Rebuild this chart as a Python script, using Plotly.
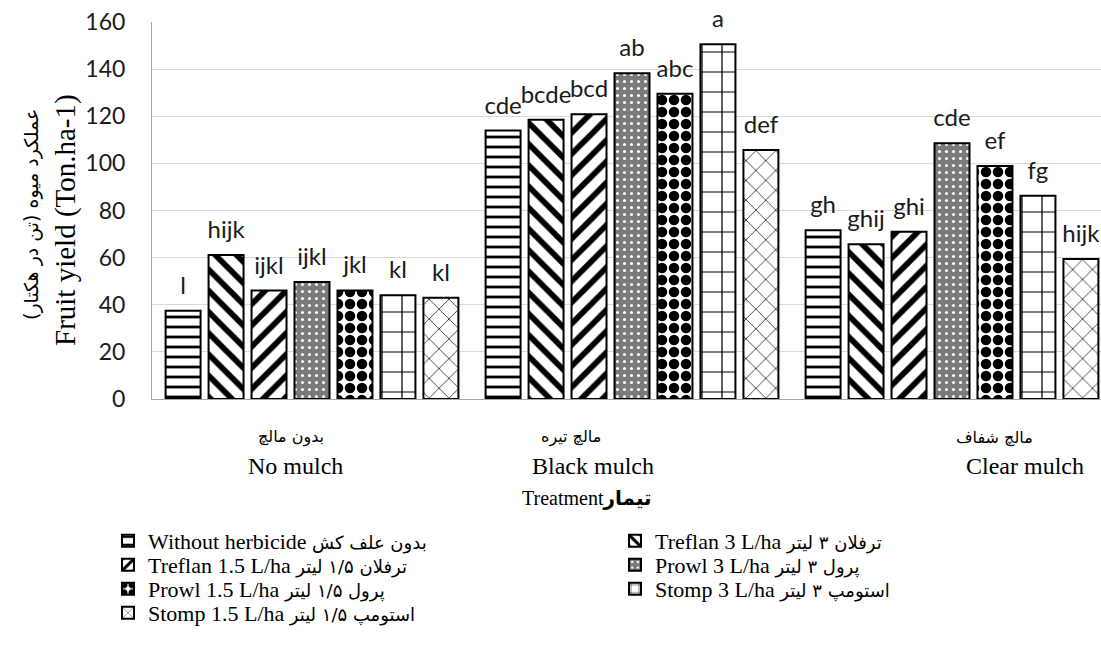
import plotly.graph_objects as go

# ---------------- data ----------------
categories = ["No mulch", "Black mulch", "Clear mulch"]
cat_fa = ["بدون مالچ", "مالچ تیره", "مالچ شفاف"]

series_en = [
    "Without herbicide",
    "Treflan 3 L/ha",
    "Treflan 1.5 L/ha",
    "Prowl 3 L/ha",
    "Prowl 1.5 L/ha",
    "Stomp 3 L/ha",
    "Stomp 1.5 L/ha",
]
series_fa = [
    "بدون علف کش",
    "ترفلان ۳ لیتر",
    "ترفلان ۱/۵ لیتر",
    "پرول ۳ لیتر",
    "پرول ۱/۵ لیتر",
    "استومپ ۳ لیتر",
    "استومپ ۱/۵ لیتر",
]

without_herbicide = [37.5, 113.9, 71.6]
treflan_3 = [61.1, 118.5, 65.7]
treflan_15 = [46.0, 120.8, 71.0]
prowl_3 = [49.7, 138.2, 108.5]
prowl_15 = [46.1, 129.6, 98.9]
stomp_3 = [44.0, 150.6, 86.3]
stomp_15 = [43.0, 105.7, 59.4]

letters_without = ["l", "cde", "gh"]
letters_treflan_3 = ["hijk", "bcde", "ghij"]
letters_treflan_15 = ["ijkl", "bcd", "ghi"]
letters_prowl_3 = ["ijkl", "ab", "cde"]
letters_prowl_15 = ["jkl", "abc", "ef"]
letters_stomp_3 = ["kl", "a", "fg"]
letters_stomp_15 = ["kl", "def", "hijk"]

y_ticks = [0, 20, 40, 60, 80, 100, 120, 140, 160]

values = [without_herbicide, treflan_3, treflan_15, prowl_3, prowl_15, stomp_3, stomp_15]
letters = [letters_without, letters_treflan_3, letters_treflan_15, letters_prowl_3,
           letters_prowl_15, letters_stomp_3, letters_stomp_15]

# ---------------- styles ----------------
patterns = [
    dict(shape="-", fgcolor="black", bgcolor="white", size=10, solidity=0.28, fillmode="replace"),
    dict(shape="\\", fgcolor="black", bgcolor="white", size=15, solidity=0.38, fillmode="replace"),
    dict(shape="/", fgcolor="black", bgcolor="white", size=15, solidity=0.38, fillmode="replace"),
    dict(shape=".", fgcolor="white", bgcolor="#7a7a7a", size=7, solidity=0.15, fillmode="replace"),
    dict(shape=".", fgcolor="black", bgcolor="white", size=12, solidity=0.6, fillmode="replace"),
    dict(shape="+", fgcolor="black", bgcolor="white", size=20, solidity=0.12, fillmode="replace"),
    dict(shape="x", fgcolor="#333333", bgcolor="white", size=14, solidity=0.12, fillmode="replace"),
]

W, H = 1101, 655
L, R, T, B = 152, 0, 22, 256
PW, PH = W - L - R, H - T - B
BARGAP = 0.06


def px_x(px):
    return (px - L) / PW


def px_y(py):
    return (H - B - py) / PH


# legend positions (pixel) for each series: (left, row-center)
legend_pos = [(108, 541), (615, 541), (108, 565), (615, 565), (108, 589), (615, 589), (108, 613)]

fig = go.Figure()
legend_ids = ["legend"] + [f"legend{i}" for i in range(2, 8)]
for i in range(7):
    name = (series_en[i] + " " +
            '<span style="font-family:DejaVu Sans;font-size:18px">' + series_fa[i] + "</span>")
    fig.add_trace(go.Bar(
        x=categories, y=values[i], name=name, showlegend=True,
        marker=dict(color="white", line=dict(color="black", width=2), pattern=patterns[i]),
        legend=legend_ids[i], hoverinfo="skip",
    ))

# significance letters, grouped the same way as the bars
for i in range(7):
    fig.add_trace(go.Scatter(
        x=categories, y=values[i], text=letters[i], mode="markers+text",
        textposition="top center",
        textfont=dict(family="Lato", size=24, color="#1a1a1a"),
        marker=dict(size=16, opacity=0, color="white"),
        showlegend=False, cliponaxis=False, hoverinfo="skip",
    ))

layout_legends = {}
for i, lid in enumerate(legend_ids):
    lx, ly = legend_pos[i]
    layout_legends[lid] = dict(
        x=px_x(lx), y=px_y(ly), xanchor="left", yanchor="middle",
        font=dict(family="Liberation Serif, DejaVu Sans", size=22, color="black"),
        bgcolor="rgba(0,0,0,0)", borderwidth=0,
    )

annotations = []
fa_x = [291, 571, 994]
en_x = [295, 593, 1025]
for i in range(3):
    annotations.append(dict(xref="paper", yref="paper", x=px_x(fa_x[i]), y=px_y(437), text=cat_fa[i],
                            showarrow=False, xanchor="center", yanchor="middle",
                            font=dict(family="DejaVu Sans", size=16, color="black")))
    annotations.append(dict(xref="paper", yref="paper", x=px_x(en_x[i]), y=px_y(466), text=categories[i],
                            showarrow=False, xanchor="center", yanchor="middle",
                            font=dict(family="Liberation Serif", size=24, color="black")))
annotations.append(dict(xref="paper", yref="paper", x=px_x(587), y=px_y(498),
                        text="Treatment<b>تیمار</b>", showarrow=False, xanchor="center", yanchor="middle",
                        font=dict(family="Liberation Serif, DejaVu Sans", size=20, color="black")))
annotations.append(dict(xref="paper", yref="paper", x=px_x(66), y=px_y(220),
                        text="Fruit yield (Ton.ha-1)", textangle=-90, showarrow=False,
                        xanchor="center", yanchor="middle",
                        font=dict(family="Liberation Serif", size=29, color="black")))
annotations.append(dict(xref="paper", yref="paper", x=px_x(31), y=px_y(215),
                        text="عملکرد میوه (تن در هکتار)", textangle=-90, showarrow=False,
                        xanchor="center", yanchor="middle",
                        font=dict(family="DejaVu Sans", size=19, color="black")))

fig.update_layout(
    width=W, height=H,
    margin=dict(l=L, r=R, t=T, b=B, pad=0, autoexpand=False),
    paper_bgcolor="white", plot_bgcolor="white",
    barmode="group", bargap=BARGAP, bargroupgap=0.186,
    scattermode="group", scattergap=BARGAP,
    annotations=annotations,
    showlegend=True,
    **layout_legends,
)
fig.update_xaxes(range=[-0.5, -0.5 + PW / 320], showticklabels=False, ticks="",
                 showline=True, linecolor="#a6a6a6", linewidth=1, showgrid=False, automargin=False)
fig.update_yaxes(range=[0, 160], tickvals=y_ticks, ticks="", ticklabelstandoff=21,
                 tickfont=dict(family="Lato", size=23, color="#1a1a1a"),
                 showgrid=True, gridcolor="#d9d9d9", gridwidth=1.3, zeroline=False,
                 showline=True, linecolor="#a6a6a6", linewidth=1, automargin=False)

fig.write_html("out.html", config={"displayModeBar": False},
               post_script="document.body.style.margin='0';")
